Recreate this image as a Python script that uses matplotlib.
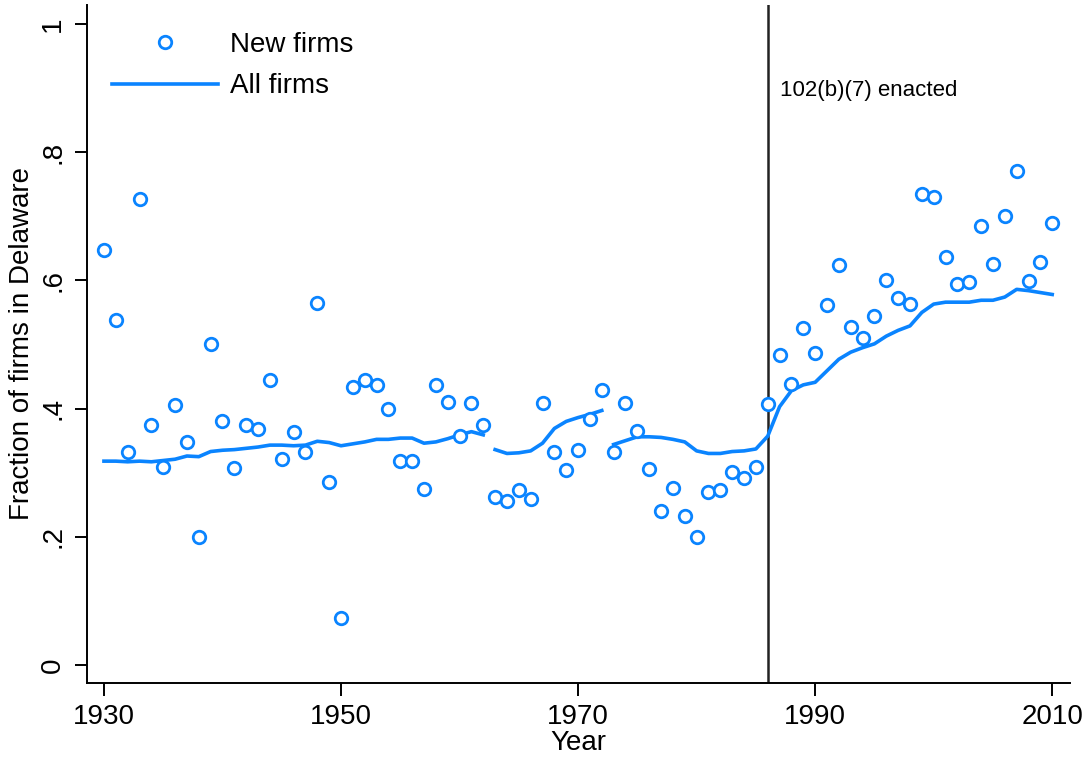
import matplotlib
matplotlib.use('Agg')
import matplotlib.pyplot as plt
import numpy as np

# New firms: fraction incorporated in Delaware, by year
new_years = list(range(1930, 2011))
new_frac = [
    0.648, 0.538, 0.333, 0.727, 0.374, 0.309, 0.405, 0.348, 0.200, 0.500,  # 1930s
    0.381, 0.308, 0.374, 0.368, 0.444, 0.322, 0.363, 0.333, 0.565, 0.285,  # 1940s
    0.074, 0.434, 0.444, 0.437, 0.400, 0.319, 0.318, 0.275, 0.437, 0.410,  # 1950s
    0.358, 0.408, 0.375, 0.262, 0.256, 0.273, 0.259, 0.409, 0.333, 0.304,  # 1960s
    0.335, 0.384, 0.429, 0.333, 0.409, 0.365, 0.306, 0.241, 0.276, 0.232,  # 1970s
    0.199, 0.270, 0.273, 0.301, 0.291, 0.309, 0.407, 0.484, 0.439, 0.525,  # 1980s
    0.486, 0.562, 0.624, 0.527, 0.510, 0.544, 0.600, 0.573, 0.563, 0.735,  # 1990s
    0.730, 0.636, 0.595, 0.598, 0.685, 0.625, 0.700, 0.770, 0.599, 0.629,  # 2000s
    0.690,
]

# All firms: drawn as three separate pieces (breaks after 1962 and 1972)
all_years_a = list(range(1930, 1963))
all_frac_a = [
    0.318, 0.318, 0.317, 0.318, 0.317, 0.319, 0.321, 0.326, 0.325, 0.333,
    0.335, 0.336, 0.338, 0.340, 0.343, 0.343, 0.342, 0.343, 0.349, 0.347,
    0.342, 0.345, 0.348, 0.352, 0.352, 0.354, 0.354, 0.346, 0.348, 0.353,
    0.359, 0.364, 0.359,
]
all_years_b = list(range(1963, 1973))
all_frac_b = [0.336, 0.330, 0.331, 0.334, 0.346, 0.369, 0.380, 0.386, 0.391, 0.397]
all_years_c = list(range(1973, 2011))
all_frac_c = [
    0.344, 0.350, 0.356, 0.356, 0.355, 0.352, 0.348, 0.334, 0.330, 0.330,
    0.333, 0.334, 0.337, 0.357, 0.403, 0.428, 0.437, 0.441, 0.459, 0.477,
    0.488, 0.495, 0.501, 0.513, 0.522, 0.529, 0.550, 0.563, 0.566, 0.566,
    0.566, 0.569, 0.569, 0.574, 0.586, 0.584, 0.581, 0.578,
]

event_year = 1986
event_label = '102(b)(7) enacted'
x_ticks = [1930, 1950, 1970, 1990, 2010]
y_ticks = [0, 0.2, 0.4, 0.6, 0.8, 1.0]
y_tick_labels = ['0', '.2', '.4', '.6', '.8', '1']

plt.rcParams['font.family'] = ['Liberation Sans', 'DejaVu Sans']
blue = '#0a84ff'

fig = plt.figure(figsize=(10.89, 7.59), dpi=100)
ax = fig.add_axes([87 / 1089, 76 / 759, 983 / 1089, 678 / 759])

ax.plot(new_years, new_frac, 'o', mfc='white', mec=blue, mew=2.0, ms=9.0,
        label='New firms', zorder=3)
ax.plot(all_years_a, all_frac_a, '-', color=blue, lw=2.6, label='All firms')
for xs, ys in [(all_years_b, all_frac_b), (all_years_c, all_frac_c)]:
    ax.plot(xs, ys, '-', color=blue, lw=2.6)

ax.axvline(event_year, color='#222222', lw=1.8, zorder=1)
ax.text(event_year + 1.0, 0.896, event_label, fontsize=16, va='center', ha='left')

ax.set_xlim(1928.57, 2011.5)
ax.set_ylim(-0.0281, 1.0296)
ax.set_xticks(x_ticks)
ax.set_yticks(y_ticks)
ax.set_yticklabels(y_tick_labels, rotation=90, va='center')
ax.tick_params(axis='both', labelsize=20, length=9, width=1.4, direction='out')
ax.tick_params(axis='x', pad=6)
ax.tick_params(axis='y', pad=6)

for side in ['top', 'right']:
    ax.spines[side].set_visible(False)
for side in ['left', 'bottom']:
    ax.spines[side].set_linewidth(1.4)

ax.set_xlabel('Year', fontsize=20, labelpad=0)
ax.set_ylabel('Fraction of firms in Delaware', fontsize=20, labelpad=4)

ax.legend(loc='upper left', bbox_to_anchor=(0.0, 0.997), frameon=False,
          fontsize=20, handlelength=3.8, handletextpad=0.45, labelspacing=0.55,
          borderaxespad=0.5, markerscale=1.0)

fig.savefig('out.png', dpi=100)
